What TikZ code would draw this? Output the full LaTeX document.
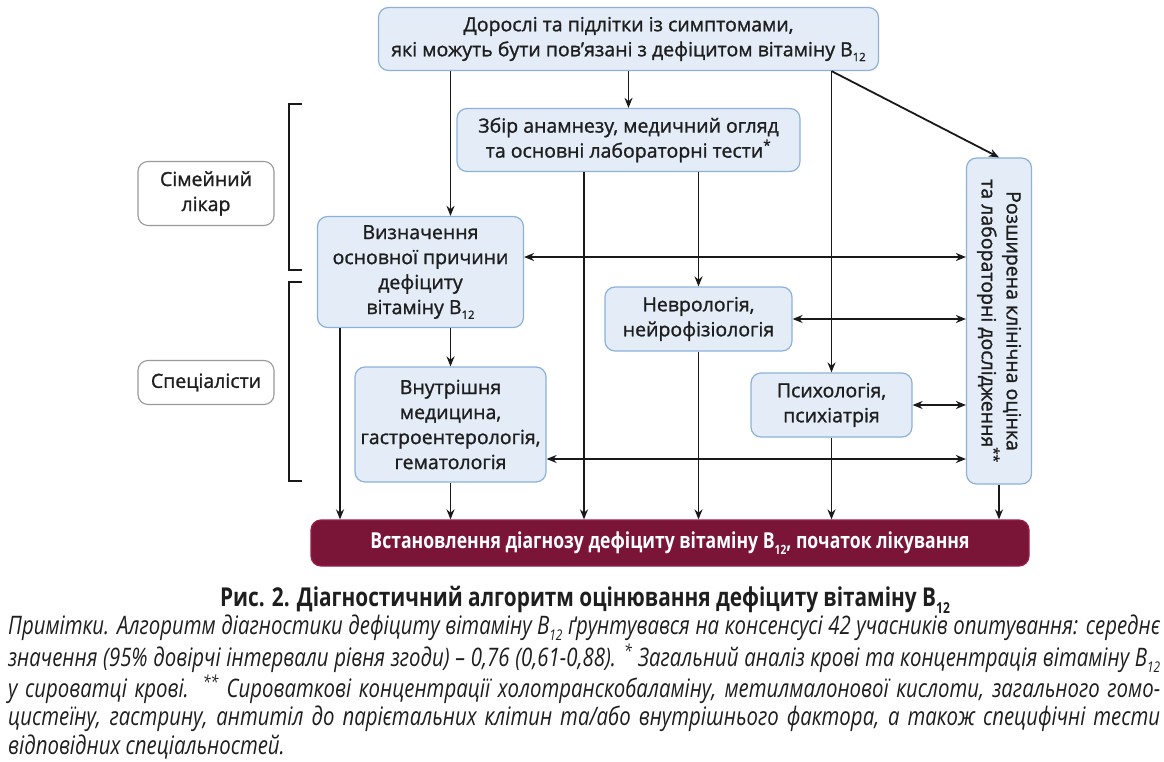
\documentclass[tikz,border=0pt]{standalone}
\usepackage{fontspec}
\usepackage{graphicx}
\setmainfont{Open Sans}
\newfontfamily\medfont[FakeBold=1.2]{Open Sans}
\newfontfamily\capfont[FakeStretch=0.8]{Open Sans}
\usetikzlibrary{arrows.meta}
\definecolor{boxfill}{HTML}{E3ECF7}
\definecolor{boxline}{HTML}{8DB2DA}
\definecolor{crimson}{HTML}{7A1538}
\definecolor{crimsonline}{HTML}{9A1E48}
\definecolor{txt}{HTML}{1E1E1E}
\newcommand\sbt[1]{\raisebox{-0.45ex}{\scalebox{0.58}{#1}}}
\begin{document}
\begin{tikzpicture}[x=1pt,y=-1pt,
  bluebox/.style={draw=boxline,fill=boxfill,line width=1.2pt,rounded corners=10pt,
    align=center,text=txt,font=\medfont\fontsize{19.5}{25}\selectfont,inner sep=2pt},
  rolebox/.style={draw=gray!80,fill=white,line width=1.1pt,rounded corners=10pt,
    align=center,text=txt,font=\medfont\fontsize{19.5}{25}\selectfont,minimum width=136pt},
  arr/.style={line width=1.8pt,draw=black!90,-{Stealth[length=10pt,width=8pt]}},
  darr/.style={line width=1.8pt,draw=black!90,{Stealth[length=10pt,width=8pt]}-{Stealth[length=10pt,width=8pt]}},
  brk/.style={line width=1.8pt,draw=black!90},
  capline/.style={anchor=west,inner sep=0pt,text=txt,font=\capfont\itshape\fontsize{25.5}{28}\selectfont}]
\useasboundingbox (0,0) rectangle (1164,762);
% boxes
\node[bluebox,minimum width=500pt,minimum height=63pt] (top) at (628.5,39)
  {Дорослі та підлітки із симптомами,\\які можуть бути пов’язані з дефіцитом вітаміну B\sbt{12}};
\node[bluebox,minimum width=343pt,minimum height=63pt] (zbir) at (628.5,140)
  {Збір анамнезу, медичний огляд\\та основні лабораторні тести\textsuperscript{*}};
\node[bluebox,minimum width=65pt,minimum height=326pt] (right) at (999,321) {};
\node[rotate=-90,align=center,text=txt,font=\medfont\fontsize{19.5}{25}\selectfont] (righttext) at (right.center)
  {Розширена клінічна оцінка\\та лабораторні дослідження\textsuperscript{**}};
\node[bluebox,minimum width=206pt,minimum height=111pt] (viz) at (420.5,272)
  {Визначення\\основної причини\\дефіциту\\вітаміну B\sbt{12}};
\node[bluebox,minimum width=187pt,minimum height=64pt] (nevr) at (698.5,319)
  {Неврологія,\\нейрофізіологія};
\node[bluebox,minimum width=191pt,minimum height=115pt] (vnut) at (450.5,424.5)
  {Внутрішня\\медицина,\\гастроентерологія,\\гематологія};
\node[bluebox,minimum width=161pt,minimum height=64pt] (psych) at (831.5,405)
  {Психологія,\\психіатрія};
\node[draw=crimsonline,fill=crimson,line width=1.2pt,rounded corners=10pt,minimum width=718pt,minimum height=46pt,
  text=white,font=\capfont\bfseries\fontsize{22}{24}\selectfont] (bot) at (670,543)
  {Встановлення діагнозу дефіциту вітаміну B\sbt{12}, початок лікування};
\node[rolebox,minimum height=64pt] (sim) at (206,193.5) {Сімейний\\лікар};
\node[rolebox,minimum height=44pt] (spec) at (206,382.5) {Спеціалісти};
% brackets
\draw[brk] (302,104) -- (289,104) -- (289,270) -- (302,270);
\draw[brk] (302,282) -- (289,282) -- (289,481) -- (302,481);
% helper coordinates
\coordinate (xa) at (340,0);
\coordinate (xb) at (584,0);
\coordinate (ya) at (0,257);
\coordinate (yb) at (0,459);
% connectors
\draw[arr] (top.south -| vnut) -- (viz.north -| vnut);
\draw[arr] (top.south) -- (zbir.north);
\draw[arr] (top.south -| psych) -- (psych.north);
\draw[arr] (top.south -| psych) -- (right.north);
\draw[arr] (zbir.south -| xb) -- (bot.north -| xb);
\draw[arr] (zbir.south -| nevr) -- (nevr.north);
\draw[darr] (viz.east |- ya) -- (right.west |- ya);
\draw[darr] (nevr.east) -- (right.west |- nevr.east);
\draw[darr] (psych.east) -- (right.west |- psych.east);
\draw[darr] (vnut.east |- yb) -- (right.west |- yb);
\draw[arr] (viz.south -| vnut) -- (vnut.north);
\draw[arr] (viz.south -| xa) -- (bot.north -| xa);
\draw[arr] (vnut.south) -- (bot.north -| vnut);
\draw[arr] (nevr.south) -- (bot.north -| nevr);
\draw[arr] (psych.south) -- (bot.north -| psych);
\draw[arr] (right.south) -- (bot.north -| right);
% caption
\node[text=txt,font=\capfont\bfseries\fontsize{26}{30}\selectfont,inner sep=0pt] (title) at (585,600)
  {Рис. 2. Діагностичний алгоритм оцінювання дефіциту вітаміну B\sbt{12}};
\node[capline] (l1) at (8,628) {\makebox[1152pt][s]{Примітки. Алгоритм діагностики дефіциту вітаміну B\sbt{12} ґрунтувався на консенсусі 42 учасників опитування: середнє}};
\node[capline] (l2) at (8,658) {\makebox[1152pt][s]{значення (95\% довірчі інтервали рівня згоди) – 0,76 (0,61-0,88). \textsuperscript{*} Загальний аналіз крові та концентрація вітаміну B\sbt{12}}};
\node[capline] (l3) at (8,689) {\makebox[1152pt][s]{у сироватці крові. \textsuperscript{**} Сироваткові концентрації холотранскобаламіну, метилмалонової кислоти, загального гомо-}};
\node[capline] (l4) at (8,719) {\makebox[1152pt][s]{цистеїну, гастрину, антитіл до парієтальних клітин та/або внутрішнього фактора, а також специфічні тести}};
\node[capline] (l5) at (8,747) {відповідних спеціальностей.};
\end{tikzpicture}
\end{document}
